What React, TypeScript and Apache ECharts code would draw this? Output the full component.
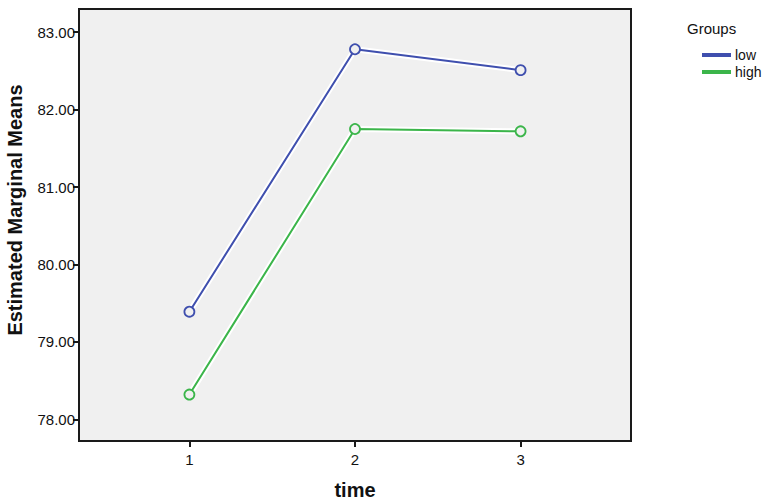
import React, { useEffect, useRef } from "react";
import * as echarts from "echarts";

const timePoints = [1, 2, 3];
const lowMeans = [79.39, 82.78, 82.51];
const highMeans = [78.32, 81.75, 81.72];
const yTicks = [78, 79, 80, 81, 82, 83];
const groupNames = ["low", "high"];

const BLUE = "#3f4fae";
const GREEN = "#3bb54a";

export default function App() {
  const ref = useRef<HTMLDivElement>(null);
  useEffect(() => {
    if (!ref.current) return;
    const chart = echarts.init(ref.current, null, { renderer: "svg" });
    const mk = (vals: number[]) => timePoints.map((t, i) => [t, vals[i]]);
    const font = "Arial, 'Liberation Sans', sans-serif";
    chart.setOption({
      animation: false,
      textStyle: { fontFamily: font },
      title: {
        text: "Groups",
        left: 682,
        top: 16,
        textStyle: { fontSize: 15, fontWeight: "normal", color: "#111", fontFamily: font },
      },
      legend: {
        data: groupNames,
        orient: "vertical",
        left: 697,
        top: 43,
        itemGap: 3,
        itemWidth: 27,
        itemHeight: 2,
        icon: "rect",
        textStyle: { fontSize: 14, color: "#111", fontFamily: font, padding: [0, 0, 0, 0] },
      },
      grid: {
        left: 79,
        top: 9,
        width: 552,
        height: 432,
        outerBoundsMode: "none",
        containLabel: false,
        show: true,
        backgroundColor: "#f0f0f0",
        borderColor: "#1a1a1a",
        borderWidth: 2,
      },
      xAxis: {
        type: "value",
        min: 1 / 3,
        max: 11 / 3,
        name: "time",
        nameLocation: "middle",
        nameGap: 39,
        nameTextStyle: { fontSize: 20, fontWeight: "bold", color: "#111", fontFamily: font },
        axisLine: { show: true, lineStyle: { color: "#1a1a1a", width: 2 } },
        axisTick: { show: true, length: 6, customValues: timePoints, lineStyle: { color: "#1a1a1a", width: 2 } },
        axisLabel: {
          customValues: timePoints,
          fontSize: 15,
          color: "#111",
          margin: 11,
          formatter: (v: number) => String(v),
        },
        splitLine: { show: false },
      },
      yAxis: {
        type: "value",
        min: 77.72,
        max: 83.3,
        name: "Estimated Marginal Means",
        nameLocation: "middle",
        nameGap: 54,
        nameTextStyle: { fontSize: 20, fontWeight: "bold", color: "#111", fontFamily: font, padding: [0, 0, 0, 30] },
        axisLine: { show: true, lineStyle: { color: "#1a1a1a", width: 2 } },
        axisTick: { show: true, length: 6, customValues: yTicks, lineStyle: { color: "#1a1a1a", width: 2 } },
        axisLabel: {
          customValues: yTicks,
          fontSize: 15,
          color: "#111",
          margin: 4,
          formatter: (v: number) => v.toFixed(2),
        },
        splitLine: { show: false },
      },
      series: [
        {
          name: "low-halo",
          type: "line",
          data: mk(lowMeans),
          symbol: "none",
          showSymbol: false,
          lineStyle: { color: "#ffffff", width: 6 },
          silent: true,
        },
        {
          name: "high-halo",
          type: "line",
          data: mk(highMeans),
          symbol: "none",
          showSymbol: false,
          lineStyle: { color: "#ffffff", width: 6 },
          silent: true,
        },
        {
          name: "low",
          type: "line",
          data: mk(lowMeans),
          symbol: "circle",
          symbolSize: 10,
          color: BLUE,
          lineStyle: { color: BLUE, width: 2 },
          itemStyle: { color: "#f0f0f0", borderColor: BLUE, borderWidth: 1.8 },
        },
        {
          name: "high",
          type: "line",
          data: mk(highMeans),
          symbol: "circle",
          symbolSize: 10,
          color: GREEN,
          lineStyle: { color: GREEN, width: 2 },
          itemStyle: { color: "#f0f0f0", borderColor: GREEN, borderWidth: 1.8 },
        },
      ],
    });
    return () => chart.dispose();
  }, []);
  return <div ref={ref} style={{ width: 765, height: 503, position: "absolute", left: 0, top: 0, background: "#fff" }} />;
}
